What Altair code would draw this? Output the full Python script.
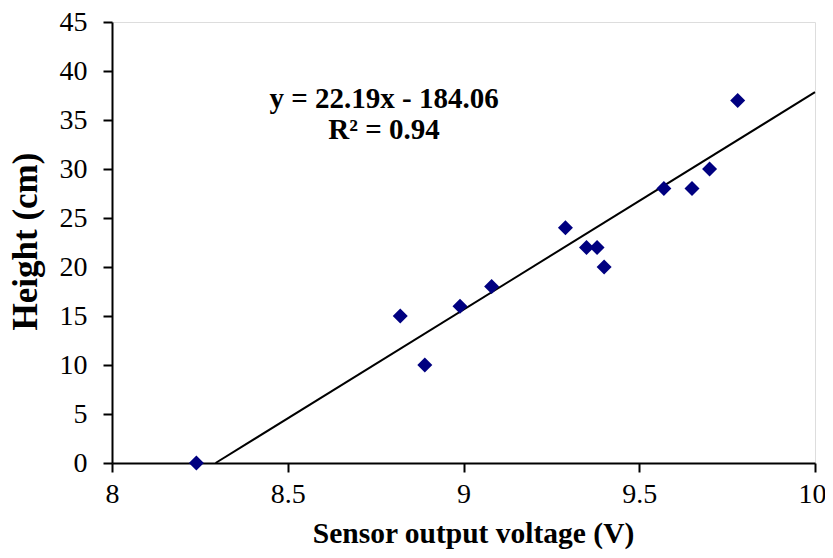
import altair as alt
import pandas as pd

voltage = [8.24, 8.82, 8.89, 8.99, 9.08, 9.29, 9.35, 9.38, 9.40, 9.57, 9.65, 9.70, 9.78]
height = [0, 15, 10, 16, 18, 24, 22, 22, 20, 28, 28, 30, 37]

slope = 22.19
intercept = -184.06
r_squared = 0.94
x_max = 10.0

pts = pd.DataFrame({"v": voltage, "h": height})
line_x = [-intercept / slope, x_max]
line_df = pd.DataFrame({"v": line_x, "h": [slope * x + intercept for x in line_x]})
one = pd.DataFrame({"k": [0]})

FONT = "Liberation Serif"

xscale = alt.Scale(domain=[8, 10], nice=False, zero=False)
yscale = alt.Scale(domain=[0, 45], nice=False)

xaxis = alt.Axis(values=[8, 8.5, 9, 9.5, 10], format="~g", title="Sensor output voltage (V)",
                 grid=False, domainColor="black", domainWidth=2, tickColor="black", tickWidth=2,
                 tickSize=9, labelFontSize=28, labelFont=FONT, labelColor="black", labelPadding=8,
                 labelOffset={"condition": {"test": "datum.value == 10", "value": -3}, "value": 0},
                 titleFont=FONT, titleFontSize=29.5, titleFontWeight="bold", titleColor="black",
                 titleX=361, titleY=79, titleBaseline="alphabetic", titleAlign="center",
                 labelFlush=False)
yaxis = alt.Axis(values=list(range(0, 46, 5)), title="Height (cm)",
                 grid=False, domainColor="black", domainWidth=2, tickColor="black", tickWidth=2,
                 tickSize=9, labelFontSize=28, labelFont=FONT, labelColor="black", labelPadding=16,
                 titleFont=FONT, titleFontSize=35, titleFontWeight="bold", titleColor="black",
                 titleX=-76, titleY=219, titleBaseline="alphabetic", titleAlign="center")

points = alt.Chart(pts).mark_point(shape="diamond", filled=True, size=225, color="#000080", opacity=1).encode(
    x=alt.X("v:Q", scale=xscale, axis=xaxis),
    y=alt.Y("h:Q", scale=yscale, axis=yaxis),
)

fit = alt.Chart(line_df).mark_line(color="black", strokeWidth=2).encode(
    x=alt.X("v:Q", scale=xscale),
    y=alt.Y("h:Q", scale=yscale),
)

eq1 = alt.Chart(one).mark_text(text=f"y = {slope:.2f}x - {abs(intercept):.2f}", font=FONT, fontSize=29,
                               fontWeight="bold", color="black", align="center", baseline="middle").encode(
    x=alt.datum(8.774), y=alt.datum(37.1))
eq2 = alt.Chart(one).mark_text(text=f"R² = {r_squared:.2f}", font=FONT, fontSize=29,
                               fontWeight="bold", color="black", align="center", baseline="middle").encode(
    x=alt.datum(8.774), y=alt.datum(34.0))

chart = alt.layer(fit, points, eq1, eq2).properties(
    width=703, height=441,
    autosize=alt.AutoSizeParams(type="none"),
    padding={"left": 104, "top": 14, "right": 10, "bottom": 87},
).configure_view(stroke=None).configure(background="white")

chart.save("out.html", embed_options={"renderer": "svg", "actions": False})
